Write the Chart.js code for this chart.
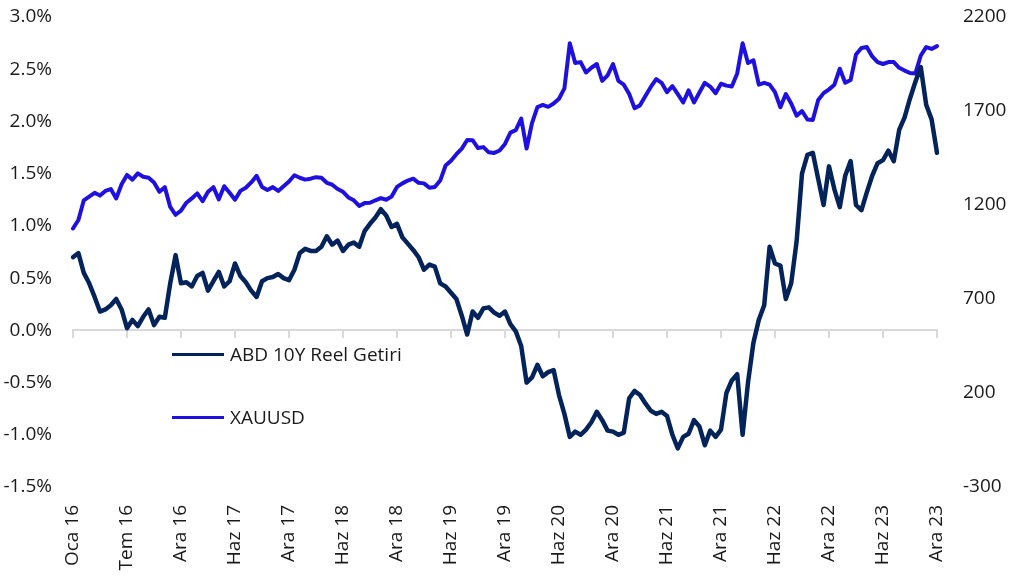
<!DOCTYPE html>
<html>
<head>
<meta charset="utf-8">
<script src="https://cdn.jsdelivr.net/npm/chart.js@4.4.1/dist/chart.umd.min.js"></script>
<style>
  body { margin: 0; background: #fff; }
  #wrap { position: relative; width: 1011px; height: 577px; }
  #legend { position: absolute; left: 172px; top: 336px; font-family: "Open Sans", sans-serif; font-size: 19px; color: #1a1a1a; }
  .leg-row { display: flex; align-items: center; height: 36px; margin-bottom: 27px; }
  .leg-line { width: 52px; height: 3px; margin-right: 6px; }
</style>
</head>
<body>
<div id="wrap">
  <canvas id="chart" width="1011" height="577"></canvas>
  <div id="legend"></div>
</div>
<script>
// tick labels, one every 10 points
const tickLabels = ['Oca 16', 'Tem 16', 'Ara 16', 'Haz 17', 'Ara 17', 'Haz 18', 'Ara 18', 'Haz 19', 'Ara 19',
                    'Haz 20', 'Ara 20', 'Haz 21', 'Ara 21', 'Haz 22', 'Ara 22', 'Haz 23', 'Ara 23'];
const pointsPerTick = 10;

// ABD 10Y reel getiri (%)
const realYield = [
  0.70, 0.74, 0.55, 0.45, 0.32, 0.18, 0.20, 0.24, 0.30, 0.20,
  0.02, 0.10, 0.04, 0.13, 0.20, 0.05, 0.13, 0.12, 0.45, 0.72,
  0.45, 0.46, 0.42, 0.52, 0.55, 0.38, 0.47, 0.56, 0.42, 0.47,
  0.64, 0.52, 0.46, 0.38, 0.32, 0.47, 0.50, 0.51, 0.54, 0.50,
  0.48, 0.58, 0.74, 0.78, 0.76, 0.76, 0.80, 0.90, 0.82, 0.86,
  0.76, 0.82, 0.84, 0.80, 0.95, 1.02, 1.08, 1.16, 1.10, 0.99,
  1.02, 0.89, 0.83, 0.77, 0.70, 0.58, 0.63, 0.61, 0.45, 0.42,
  0.36, 0.30, 0.14, -0.04, 0.18, 0.12, 0.21, 0.22, 0.17, 0.14,
  0.18, 0.06, -0.01, -0.15, -0.50, -0.45, -0.33, -0.44, -0.40, -0.38,
  -0.62, -0.80, -1.02, -0.97, -1.00, -0.95, -0.88, -0.78, -0.86, -0.96,
  -0.97, -1.00, -0.98, -0.65, -0.58, -0.62, -0.70, -0.77, -0.80, -0.78,
  -0.82, -1.00, -1.13, -1.02, -0.99, -0.86, -0.92, -1.10, -0.96, -1.02,
  -0.95, -0.60, -0.48, -0.42, -1.00, -0.50, -0.12, 0.10, 0.24, 0.80,
  0.64, 0.62, 0.30, 0.45, 0.85, 1.50, 1.68, 1.70, 1.45, 1.20,
  1.57, 1.35, 1.18, 1.48, 1.62, 1.20, 1.15, 1.32, 1.48, 1.60,
  1.63, 1.72, 1.62, 1.92, 2.04, 2.22, 2.38, 2.52, 2.16, 2.02,
  1.70
];

// XAUUSD
const goldPrice = [
  1075, 1120, 1225, 1245, 1265, 1250, 1275, 1285, 1235, 1310,
  1360, 1335, 1368, 1350, 1345, 1320, 1270, 1295, 1190, 1148,
  1170, 1212, 1235, 1262, 1220, 1270, 1295, 1230, 1300, 1265,
  1228, 1275, 1292, 1320, 1355, 1296, 1280, 1295, 1275, 1300,
  1325, 1358, 1345, 1335, 1340, 1348, 1345, 1318, 1308, 1285,
  1270, 1240, 1225, 1195, 1210, 1212, 1225, 1237, 1228, 1245,
  1296, 1315, 1330, 1340, 1318, 1315, 1292, 1296, 1330, 1410,
  1435, 1470, 1500, 1546, 1545, 1503, 1508, 1480, 1477, 1490,
  1525, 1585, 1598, 1660, 1500, 1636, 1721, 1732, 1722, 1740,
  1765, 1820, 2060, 1955, 1960, 1905, 1930, 1950, 1860, 1890,
  1950, 1860, 1840, 1790, 1715, 1730, 1780, 1828, 1870, 1850,
  1800, 1832, 1790, 1745, 1810, 1745, 1798, 1850, 1830, 1795,
  1845, 1835, 1830, 1900, 2060, 1955, 1970, 1840, 1850, 1840,
  1800, 1720, 1790, 1740, 1675, 1700, 1655, 1652, 1758, 1795,
  1815, 1840, 1925, 1850, 1865, 2000, 2035, 2040, 1990, 1960,
  1950, 1960, 1960, 1930, 1915, 1902, 1900, 1995, 2040, 2030,
  2045
];

const seriesNames = ['ABD 10Y Reel Getiri', 'XAUUSD'];
const seriesColors = ['#03235a', '#1f10e2'];

const labels = realYield.map((v, i) => i % pointsPerTick === 0 ? tickLabels[i / pointsPerTick] : '');

const FONT = { family: '"Open Sans", sans-serif', size: 19 };
const TEXT_COLOR = '#1a1a1a';

function fixY(width) {
    return s => {
        s.width = width;
        s.paddingTop = 0;
        s.paddingBottom = 0;
    };
}

new Chart(document.getElementById('chart'), {
    type: 'line',
    data: {
        labels: labels,
        datasets: [
            {
                label: seriesNames[0],
                data: realYield,
                yAxisID: 'y',
                borderColor: seriesColors[0],
                borderWidth: 4.5,
                pointRadius: 0,
                borderJoinStyle: 'round',
                borderCapStyle: 'round'
            },
            {
                label: seriesNames[1],
                data: goldPrice,
                yAxisID: 'y1',
                borderColor: seriesColors[1],
                borderWidth: 4,
                pointRadius: 0,
                borderJoinStyle: 'round',
                borderCapStyle: 'round'
            }
        ]
    },
    options: {
        responsive: false,
        animation: false,
        layout: { padding: { top: 17, left: 0, right: 0, bottom: 0 } },
        plugins: {
            legend: { display: false },
            tooltip: { enabled: false }
        },
        scales: {
            x: {
                type: 'category',
                position: 'bottom',
                grid: { display: false },
                border: { display: false },
                ticks: {
                    autoSkip: false,
                    minRotation: 90,
                    maxRotation: 90,
                    padding: 10,
                    color: TEXT_COLOR,
                    font: FONT,
                    callback: (v, i) => labels[i]
                },
                afterFit: s => {
                    s.height = 90;
                    s.paddingLeft = 0;
                    s.paddingRight = 0;
                }
            },
            x2: {
                type: 'category',
                position: { y: 0 },
                ticks: { display: false },
                grid: {
                    drawOnChartArea: false,
                    drawTicks: true,
                    tickLength: 7,
                    lineWidth: 2,
                    color: ctx => (ctx.index % pointsPerTick === 0) ? '#d9d9d9' : 'rgba(0,0,0,0)'
                },
                border: { display: true, color: '#d9d9d9', width: 2 }
            },
            y: {
                position: 'left',
                min: -1.5,
                max: 3.0,
                grid: { display: false, drawTicks: false },
                border: { display: false },
                ticks: {
                    stepSize: 0.5,
                    padding: 21,
                    color: TEXT_COLOR,
                    font: FONT,
                    callback: v => v.toFixed(1) + '%'
                },
                afterFit: fixY(73)
            },
            y1: {
                position: 'right',
                min: -300,
                max: 2200,
                grid: { display: false, drawTicks: false },
                border: { display: false },
                ticks: {
                    stepSize: 500,
                    padding: 26,
                    color: TEXT_COLOR,
                    font: FONT,
                    callback: v => String(v)
                },
                afterFit: fixY(74)
            }
        }
    }
});

// legend inside the plot, lower left
let legHtml = '';
seriesNames.forEach((name, i) => {
    legHtml += `<div class="leg-row"><span class="leg-line" style="background:${seriesColors[i]}"></span><span>${name}</span></div>`;
});
document.getElementById('legend').innerHTML = legHtml;
</script>
</body>
</html>
